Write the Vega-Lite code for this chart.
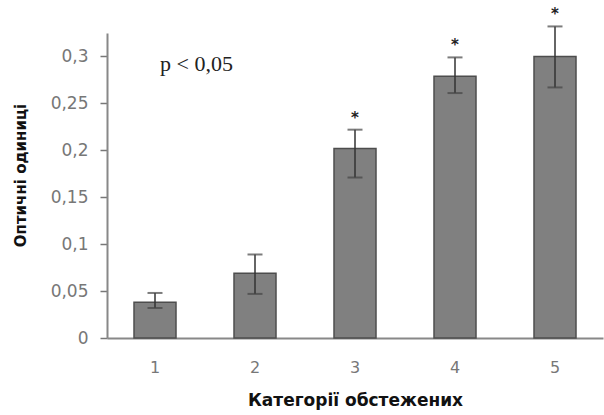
{
  "$schema": "https://vega.github.io/schema/vega-lite/v6.json",
  "autosize": "none",
  "width": 496,
  "height": 305,
  "padding": {"left": 107, "top": 33, "right": 1, "bottom": 77},
  "background": "white",
  "config": {"view": {"stroke": null}},
  "data": {"values": [
    {"cat": "1", "value": 0.038, "lo": 0.032, "hi": 0.048, "star": ""},
    {"cat": "2", "value": 0.069, "lo": 0.047, "hi": 0.089, "star": ""},
    {"cat": "3", "value": 0.202, "lo": 0.171, "hi": 0.222, "star": "*"},
    {"cat": "4", "value": 0.279, "lo": 0.261, "hi": 0.299, "star": "*"},
    {"cat": "5", "value": 0.300, "lo": 0.267, "hi": 0.332, "star": "*"}
  ]},
  "encoding": {
    "x": {
      "field": "cat", "type": "ordinal",
      "scale": {"paddingInner": 0.58, "paddingOuter": 0.27},
      "axis": {
        "title": "Категорії обстежених",
        "titleFont": "DejaVu Sans", "titleFontSize": 17, "titleFontWeight": "bold", "titleColor": "#111",
        "titlePadding": 17,
        "labelAngle": 0, "labelFont": "DejaVu Sans", "labelFontSize": 16, "labelColor": "#777", "labelPadding": 21,
        "ticks": false, "domainColor": "#888", "domainWidth": 2
      }
    }
  },
  "layer": [
    {
      "mark": {"type": "bar", "color": "#808080", "stroke": "#4d4d4d", "strokeWidth": 1.5},
      "encoding": {
        "y": {
          "field": "value", "type": "quantitative",
          "scale": {"domain": [0, 0.325], "nice": false},
          "axis": {
            "title": "Оптичні одиниці",
            "titleFont": "DejaVu Sans", "titleFontSize": 15, "titleFontWeight": "bold", "titleColor": "#111",
            "titleX": -87, "titleY": 142, "titleBaseline": "middle",
            "values": [0, 0.05, 0.1, 0.15, 0.2, 0.25, 0.3],
            "labelExpr": "replace(format(datum.value, ''), '.', ',')",
            "labelFont": "DejaVu Sans", "labelFontSize": 17, "labelColor": "#777", "labelPadding": 12,
            "grid": false, "tickSize": 7, "tickColor": "#777", "tickWidth": 1.5,
            "domainColor": "#888", "domainWidth": 2
          }
        }
      }
    },
    {
      "mark": {"type": "rule", "color": "#333", "strokeWidth": 1.5},
      "encoding": {"y": {"field": "lo", "type": "quantitative"}, "y2": {"field": "hi"}}
    },
    {
      "mark": {"type": "tick", "color": "#444", "size": 15, "thickness": 2},
      "encoding": {"y": {"field": "lo", "type": "quantitative"}}
    },
    {
      "mark": {"type": "tick", "color": "#444", "size": 15, "thickness": 2},
      "encoding": {"y": {"field": "hi", "type": "quantitative"}}
    },
    {
      "mark": {"type": "text", "font": "DejaVu Sans", "fontSize": 15, "fontWeight": "bold", "color": "#222", "baseline": "middle", "dy": -12},
      "encoding": {"y": {"field": "hi", "type": "quantitative"}, "text": {"field": "star"}}
    },
    {
      "data": {"values": [{"label": "p < 0,05", "cat": "1", "yv": 0.292}]},
      "mark": {"type": "text", "font": "Liberation Serif", "fontSize": 22, "color": "#222", "align": "left", "baseline": "middle", "dx": 5},
      "encoding": {
        "x": {"field": "cat", "type": "ordinal"},
        "y": {"field": "yv", "type": "quantitative"},
        "text": {"field": "label"}
      }
    }
  ]
}
